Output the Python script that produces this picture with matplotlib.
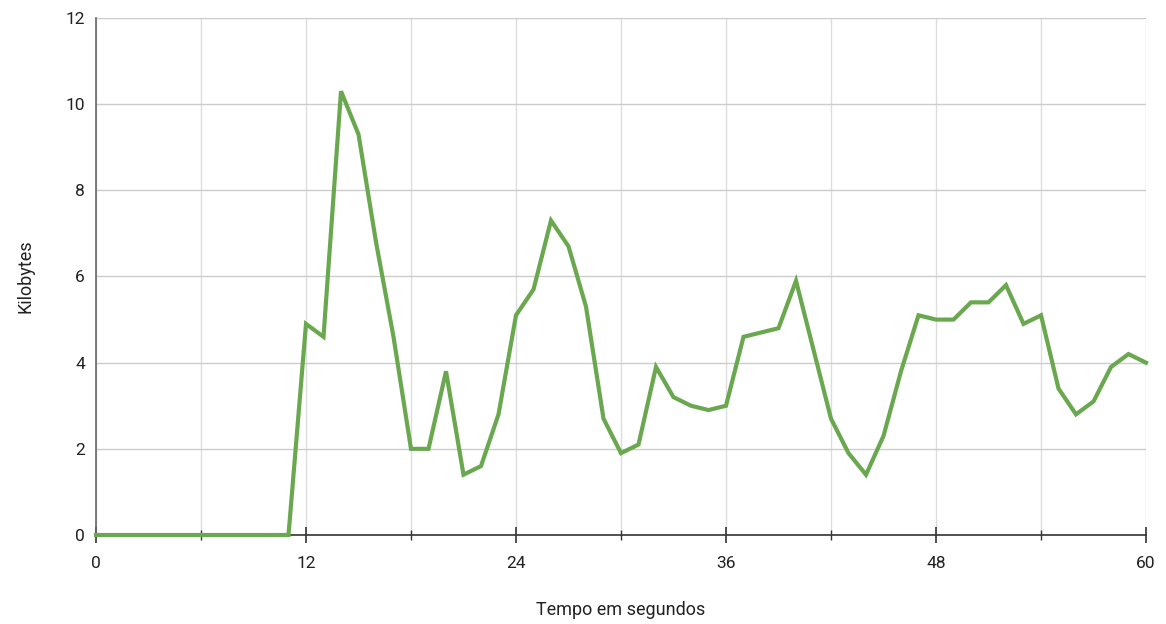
import matplotlib
matplotlib.use("Agg")
import matplotlib.pyplot as plt
from matplotlib.ticker import MultipleLocator

plt.rcParams['font.family'] = ['Roboto', 'DejaVu Sans']

seconds = list(range(0, 61))
kilobytes = [0, 0, 0, 0, 0, 0, 0, 0, 0, 0, 0, 0,
             4.9, 4.6, 10.3, 9.3, 6.8, 4.6, 2.0, 2.0, 3.8, 1.4, 1.6, 2.8,
             5.1, 5.7, 7.3, 6.7, 5.3, 2.7, 1.9, 2.1, 3.9, 3.2, 3.0, 2.9,
             3.0, 4.6, 4.7, 4.8, 5.9, 4.3, 2.7, 1.9, 1.4, 2.3, 3.8, 5.1,
             5.0, 5.0, 5.4, 5.4, 5.8, 4.9, 5.1, 3.4, 2.8, 3.1, 3.9, 4.2, 4.0]
x_major = [0, 12, 24, 36, 48, 60]
y_ticks = [0, 2, 4, 6, 8, 10, 12]

fig = plt.figure(figsize=(11.66, 6.24), dpi=100)
ax = fig.add_axes([96/1166, 89/624, 1050/1166, 517/624])

ax.plot(seconds, kilobytes, color='#6aa84f', lw=3.0, solid_joinstyle='miter', zorder=3, clip_on=False)

ax.set_xlim(0, 60)
ax.set_ylim(0, 12)
ax.set_xticks(x_major)
ax.xaxis.set_minor_locator(MultipleLocator(6))
ax.set_yticks(y_ticks)

ax.grid(True, which='both', axis='x', color='#dddddd', lw=1)
ax.grid(True, which='major', axis='y', color='#cccccc', lw=1)
ax.set_axisbelow(True)

for s in ['top', 'right']:
    ax.spines[s].set_visible(False)
ax.spines['bottom'].set_color('#333333')
ax.spines['left'].set_color('#666666')
ax.spines['bottom'].set_linewidth(1.2)
ax.spines['left'].set_linewidth(1.2)

ax.tick_params(axis='x', which='major', direction='inout', length=12, width=1.2, color='#333333', labelsize=12.5, pad=9)
ax.tick_params(axis='x', which='minor', direction='inout', length=7, width=1, color='#333333')
ax.tick_params(axis='y', length=0, labelsize=12.5, pad=8)
for lab in ax.get_xticklabels() + ax.get_yticklabels():
    lab.set_color('#222222')

ax.set_xlabel('Tempo em segundos', fontsize=13, color='#222222', labelpad=22)
ax.set_ylabel('Kilobytes', fontsize=13, color='#222222', labelpad=22)

fig.savefig('out.png', dpi=100)
